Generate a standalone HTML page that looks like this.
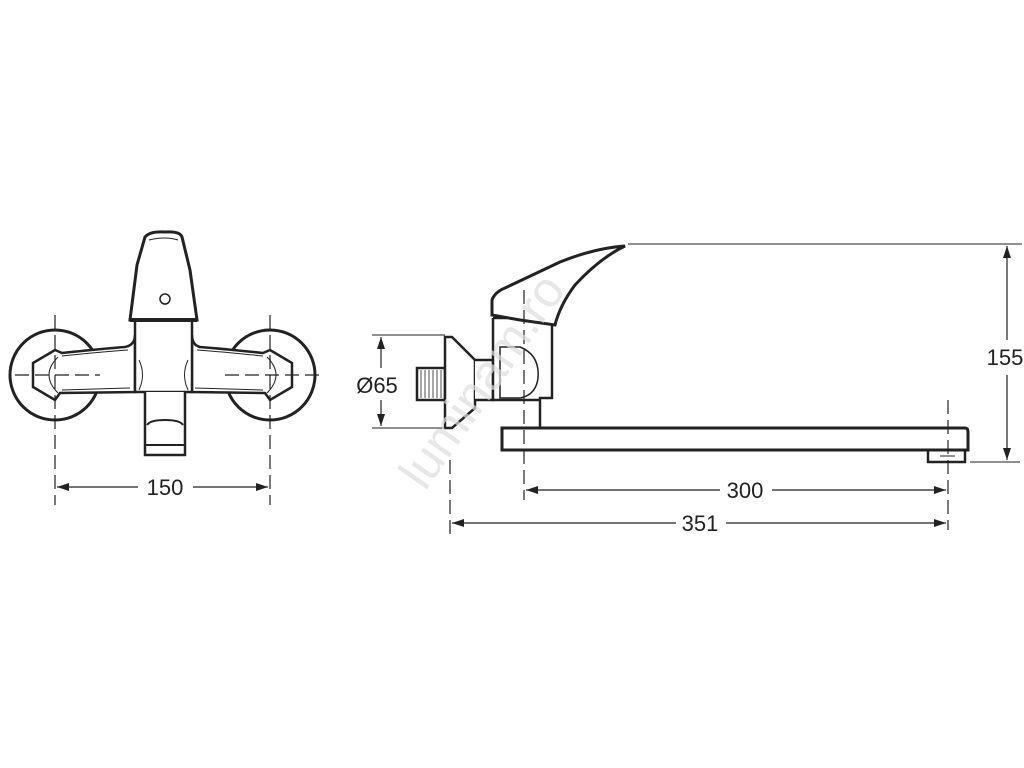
<!DOCTYPE html>
<html><head><style>html,body{margin:0;padding:0;background:#fff}svg{display:block}text{font-family:"Liberation Sans",sans-serif;fill:#222}</style></head>
<body>
<svg width="1024" height="768" viewBox="0 0 1024 768" xmlns="http://www.w3.org/2000/svg">
<defs><marker id="a" markerWidth="12" markerHeight="8" refX="12" refY="4" orient="auto-start-reverse" markerUnits="userSpaceOnUse"><path d="M0,0 L12,4 L0,8 z" fill="#222"/></marker></defs>
<g stroke="#222" fill="none">
<!-- LEFT VIEW -->
<circle cx="55" cy="375" r="45" stroke-width="3" fill="#fff"/>
<circle cx="270" cy="375" r="45" stroke-width="3" fill="#fff"/>
<path d="M55,350 L62,353 Q100,349 125,347 Q135,345 135,335 L135,392 L60,393 L55,400 L33,387 L33,363 Z" fill="#fff" stroke-width="2.5"/>
<path d="M58,357 Q40,375 58,393 M62,356 Q100,352 128,350 M62,390 L130,388" stroke-width="1"/>
<path d="M270,350 L263,353 Q225,349 200,347 Q192,345 192,335 L192,392 L265,393 L270,400 L292,387 L292,363 Z" fill="#fff" stroke-width="2.5"/>
<path d="M267,357 Q285,375 267,393 M263,356 Q225,352 197,350 M263,390 L195,388" stroke-width="1"/>
<path d="M135,320 V392 H192 V320 Z" fill="#fff" stroke-width="2.5"/>
<path d="M139,360 Q146,375 139,390 M188,360 Q181,375 188,390" stroke-width="1"/>
<path d="M145,392 L145,455 L185,455 L185,392" fill="#fff" stroke-width="2.5"/>
<path d="M147,425 Q150,420 165,420 Q180,420 183,425 M145,445 L185,445" stroke-width="2"/>
<path d="M130,320 L137,265 L145,237 Q150,231 165,232 Q180,231 182,237 L190,270 L197,320 Z" fill="#fff" stroke-width="3"/>
<path d="M149,240 Q165,236 178,240" stroke-width="1"/>
<path d="M130,320 L197,320" stroke-width="4"/>
<circle cx="165" cy="299" r="5" stroke-width="1.5"/>
<g stroke-width="1.2" stroke-dasharray="14,6"><path d="M55,315 V505 M270,315 V505 M15,375 H100 M225,375 H325"/></g>
<path d="M57,487 H138 M193,487 H268" stroke-width="1.2" marker-start="url(#a)" marker-end="url(#a)"/>
<!-- RIGHT VIEW -->
<path d="M417,368 H445 V400 H417 Z" fill="#fff" stroke-width="2.5"/>
<path d="M421,370 V398 M425,370 V398 M429,370 V398 M433,370 V398 M437,370 V398 M441,370 V398" stroke-width="0.8"/>
<path d="M445,337 H452 L475,360 L475,408 L452,428 H445 Z" fill="#fff" stroke-width="2.5"/>
<path d="M475,360 H493 V400 H475" stroke-width="2.5" fill="#fff"/>
<path d="M493,318 H552 V398 H540 V428 M493,318 V400 H540" fill="#fff" stroke-width="2.5"/>
<path d="M500,347 H520 Q540,355 538,378 Q536,395 520,398 H500 Z" stroke-width="1.5"/>
<path d="M492,315 L492,300 Q495,292 505,288 L560,262 Q595,248 625,246 Q600,258 575,285 Q560,305 555,325 L520,320 Z" fill="#fff" stroke-width="3"/>
<path d="M502,428 H965 Q968,428 968,432 V450 H502 Z" fill="#fff" stroke-width="3"/>
<path d="M928,450 V462 H965 V450" stroke-width="2.5"/>
<path d="M940,456 H955" stroke-width="1"/>
<g stroke-width="1.2" stroke-dasharray="14,6"><path d="M948,400 V530 M524,290 V500 M450,460 V535"/></g>
<path d="M372,335 H445 M372,428 H445 M628,244 H1022 M970,462 H1020" stroke-width="1"/>
<path d="M381,337 V368 M381,400 V426" stroke-width="1.2" marker-start="url(#a)" marker-end="url(#a)"/>
<path d="M1007,246 V340 M1007,375 V460" stroke-width="1.2" marker-start="url(#a)" marker-end="url(#a)"/>
<path d="M526,490 H720 M772,490 H946" stroke-width="1.2" marker-start="url(#a)" marker-end="url(#a)"/>
<path d="M452,523 H676 M726,523 H946" stroke-width="1.2" marker-start="url(#a)" marker-end="url(#a)"/>
</g>
<text x="0" y="0" font-size="50" style="fill:#dddddd;opacity:0.7" transform="translate(425,492) rotate(-55)">luminam.ro</text>
<text x="165" y="495" font-size="22" text-anchor="middle">150</text>
<text x="377" y="393" font-size="22" text-anchor="middle">Ø65</text>
<text x="1005" y="365" font-size="22" text-anchor="middle">155</text>
<text x="745" y="498" font-size="22" text-anchor="middle">300</text>
<text x="700" y="531" font-size="22" text-anchor="middle">351</text>
</svg>
</body></html>
